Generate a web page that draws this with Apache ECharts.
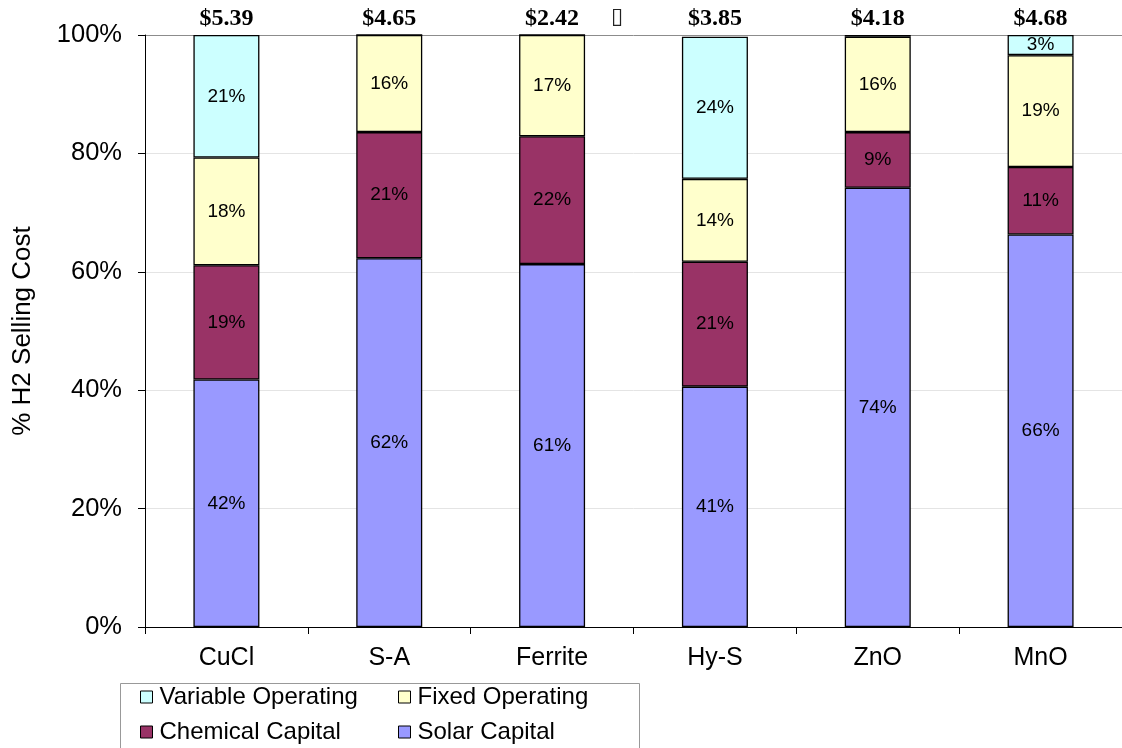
<!DOCTYPE html>
<html>
<head>
<meta charset="utf-8">
<script src="https://cdn.jsdelivr.net/npm/echarts@6/dist/echarts.min.js"></script>
<style>
  html, body { margin: 0; padding: 0; background: #fff; }
  #chart { width: 1122px; height: 748px; }
</style>
</head>
<body>
<div id="chart"></div>
<script>
// Process routes and their H2 selling cost ($/kg)
const categories = ['CuCl', 'S-A', 'Ferrite', 'Hy-S', 'ZnO', 'MnO'];
const costLabels = ['$5.39', '$4.65', '$2.42', '$3.85', '$4.18', '$4.68'];

// Share of selling cost per component (%)
const solarCapital      = [41.8, 62.3, 61.3, 40.6, 74.2, 66.3];
const chemicalCapital   = [19.3, 21.3, 21.6, 21.1, 9.4, 11.4];
const fixedOperating    = [18.2, 16.4, 17.1, 14.0, 16.1, 18.9];
const variableOperating = [20.7, 0, 0, 24.0, 0.3, 3.4];

const yTicks = [0, 20, 40, 60, 80, 100];

const SANS = 'Liberation Sans, Arial, sans-serif';

function pctLabel(p) {
  return p.value >= 1 ? Math.round(p.value) + '%' : '';
}

function stackSeries(name, data, color) {
  return {
    name: name,
    type: 'bar',
    stack: 'cost',
    barWidth: 66,
    data: data,
    itemStyle: { color: color, borderColor: '#000', borderWidth: 1.3 },
    label: {
      show: true,
      position: 'inside',
      formatter: pctLabel,
      color: '#000',
      fontFamily: SANS,
      fontSize: 19
    },
    emphasis: { disabled: true }
  };
}

function legendColumn(left, names) {
  return {
    orient: 'vertical',
    left: left,
    top: 685,
    height: 63,
    padding: 0,
    itemWidth: 12,
    itemHeight: 12,
    itemGap: 11,
    icon: 'rect',
    selectedMode: false,
    data: names,
    itemStyle: { borderColor: '#000', borderWidth: 1 },
    textStyle: {
      color: '#000',
      fontFamily: SANS,
      fontSize: 24,
      lineHeight: 24,
      padding: [0, 0, 0, 2]
    }
  };
}

const chart = echarts.init(document.getElementById('chart'), null, { renderer: 'canvas' });

chart.setOption({
  backgroundColor: '#fff',
  animation: false,
  grid: { left: 145, top: 35, width: 978, height: 592, containLabel: false },
  xAxis: [
    {
      type: 'category',
      data: categories,
      position: 'bottom',
      axisLine: { lineStyle: { color: '#000', width: 1 } },
      axisTick: { show: true, length: 7, lineStyle: { color: '#000' } },
      axisLabel: { color: '#000', fontFamily: SANS, fontSize: 25, margin: 19 }
    },
    {
      type: 'category',
      data: costLabels,
      position: 'top',
      axisLine: { show: false },
      axisTick: { show: false },
      axisLabel: {
        color: '#000',
        fontFamily: 'Liberation Serif, Times New Roman, serif',
        fontWeight: 'bold',
        fontSize: 24,
        margin: 4
      }
    }
  ],
  yAxis: {
    type: 'value',
    min: yTicks[0],
    max: yTicks[yTicks.length - 1],
    interval: 20,
    name: '% H2 Selling Cost',
    nameLocation: 'middle',
    nameGap: 109,
    nameTextStyle: { color: '#000', fontFamily: SANS, fontSize: 26 },
    axisLine: { show: true, lineStyle: { color: '#000', width: 1 } },
    axisTick: { show: true, length: 7, lineStyle: { color: '#000' } },
    axisLabel: {
      color: '#000',
      fontFamily: SANS,
      fontSize: 25.5,
      margin: 23,
      formatter: '{value}%'
    },
    splitLine: {
      show: true,
      lineStyle: {
        color: ['#e4e4e4', '#e4e4e4', '#e4e4e4', '#e4e4e4', '#e4e4e4', '#8c8c8c'],
        width: 1
      }
    }
  },
  legend: [
    legendColumn(140, ['Variable Operating', 'Chemical Capital']),
    legendColumn(398, ['Fixed Operating', 'Solar Capital'])
  ],
  graphic: [
    {
      type: 'rect',
      z: -1,
      shape: { x: 120.5, y: 683.5, width: 519, height: 80 },
      style: { fill: '#fff', stroke: '#999', lineWidth: 1 }
    },
    {
      type: 'text',
      x: 611,
      y: 6,
      style: { text: '\u25AF', font: '22px DejaVu Sans', fill: '#222' }
    }
  ],
  series: [
    stackSeries('Solar Capital', solarCapital, '#9999FF'),
    stackSeries('Chemical Capital', chemicalCapital, '#993366'),
    stackSeries('Fixed Operating', fixedOperating, '#FFFFCC'),
    stackSeries('Variable Operating', variableOperating, '#CCFFFF')
  ]
});
</script>
</body>
</html>
